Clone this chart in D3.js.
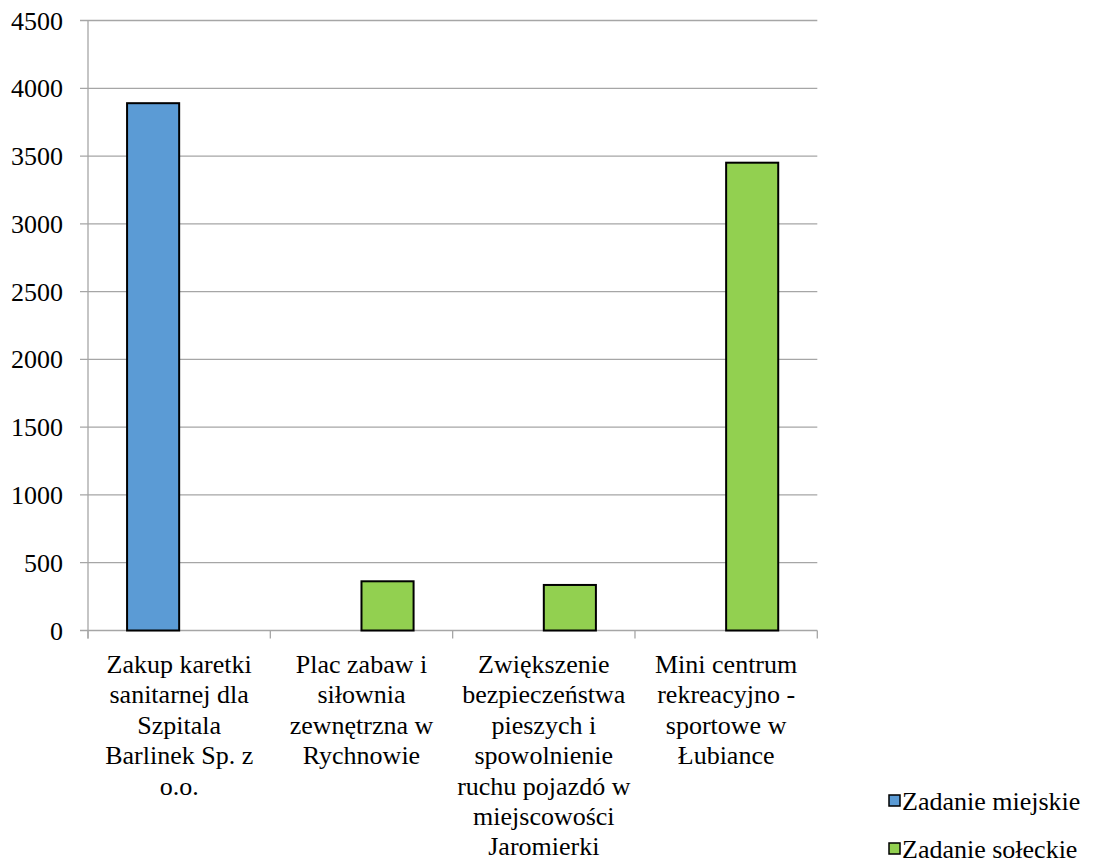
<!DOCTYPE html>
<html><head><meta charset="utf-8">
<script src="https://cdn.jsdelivr.net/npm/d3@7"></script>
<style>body{margin:0;background:#fff}svg{display:block}</style>
</head><body><svg id="c" width="1094" height="863"></svg>
<script>
const categories = [
  ["Zakup karetki","sanitarnej dla","Szpitala","Barlinek Sp. z","o.o."],
  ["Plac zabaw i","siłownia","zewnętrzna w","Rychnowie"],
  ["Zwiększenie","bezpieczeństwa","pieszych i","spowolnienie","ruchu pojazdó w","miejscowości","Jaromierki"],
  ["Mini centrum","rekreacyjno -","sportowe w","Łubiance"]
];
const seriesNames = ["Zadanie miejskie","Zadanie sołeckie"];
const miejskie = [3890, 0, 0, 0];
const soleckie = [0, 363, 336, 3451];
const yTicks = [0,500,1000,1500,2000,2500,3000,3500,4000,4500];
const colors = ["#5B9BD5","#92D050"];

const FF = "Liberation Serif";
const svg = d3.select("#c");
const L = 88, R = 817.3, T = 20.5, B = 630.5;
const catIdx = categories.map((d,i)=>i);
const x = d3.scaleBand().domain(catIdx).range([L,R]).paddingInner(0).paddingOuter(0);
const xs = d3.scaleBand().domain([0,1]).range([0,x.bandwidth()]).paddingInner(0).paddingOuter(0.75);
const y = d3.scaleLinear().domain([0,4500]).range([B,T]);

svg.append("g").selectAll("line").data(yTicks).join("line")
  .attr("x1",L-8).attr("x2",R).attr("y1",d=>y(d)).attr("y2",d=>y(d))
  .attr("stroke","#a6a6a6").attr("stroke-width",1.3);
svg.append("line").attr("x1",L).attr("x2",L).attr("y1",T).attr("y2",B+8).attr("stroke","#a6a6a6").attr("stroke-width",1.3);
svg.append("g").selectAll("line").data(catIdx.concat([categories.length])).join("line")
  .attr("x1",d=>d<categories.length?x(d):R).attr("x2",d=>d<categories.length?x(d):R)
  .attr("y1",B).attr("y2",B+8).attr("stroke","#a6a6a6").attr("stroke-width",1.3);
svg.append("g").selectAll("text").data(yTicks).join("text")
  .attr("x",63).attr("y",d=>y(d)).attr("dy","0.35em").attr("text-anchor","end")
  .style("font-family",FF).attr("font-size",26).attr("fill","#000").text(d=>d);

const data = [miejskie, soleckie];
data.forEach((vals,s)=>{
  svg.append("g").selectAll("rect").data(vals.map((v,i)=>({v,i})).filter(d=>d.v>0)).join("rect")
    .attr("x",d=>x(d.i)+xs(s)).attr("width",xs.bandwidth())
    .attr("y",d=>y(d.v)).attr("height",d=>B-y(d.v))
    .attr("fill",colors[s]).attr("stroke","#000").attr("stroke-width",2);
});

const cl = svg.append("g").selectAll("text").data(categories).join("text")
  .attr("text-anchor","middle").style("font-family",FF).attr("font-size",26).attr("fill","#000")
  .attr("x",(d,i)=>x(i)+x.bandwidth()/2).attr("y",673);
cl.selectAll("tspan").data(d=>d).join("tspan")
  .attr("x",function(){return this.parentNode.getAttribute("x");})
  .attr("dy",(d,j)=>j===0?0:30.4).text(d=>d);

const lg = svg.append("g").selectAll("g").data(seriesNames).join("g")
  .attr("transform",(d,i)=>`translate(889,${801+i*48})`);
lg.append("rect").attr("x",0).attr("y",-6).attr("width",11).attr("height",11)
  .attr("fill",(d,i)=>colors[i]).attr("stroke","#000").attr("stroke-width",1.5);
lg.append("text").attr("x",13).attr("y",0).attr("dy","0.33em").style("font-family",FF)
  .attr("font-size",26).attr("fill","#000").text(d=>d);
</script></body></html>
